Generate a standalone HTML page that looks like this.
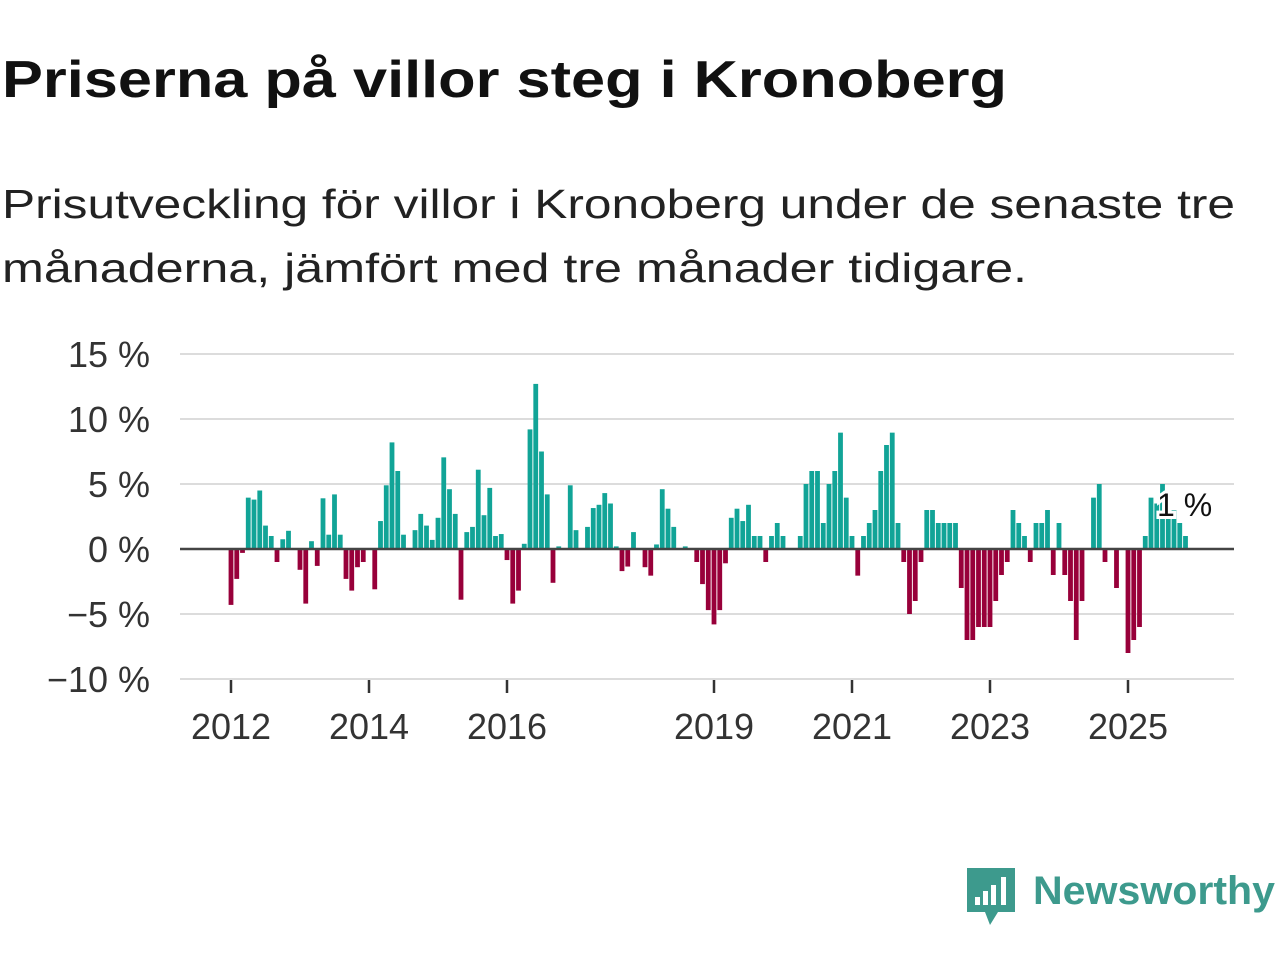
<!DOCTYPE html>
<html><head><meta charset="utf-8"><style>
body{margin:0;background:#fff;}
svg{display:block;font-family:"Liberation Sans","DejaVu Sans",sans-serif;}
</style></head><body>
<svg id="chart" width="1280" height="960" viewBox="0 0 1280 960">
<text x="2" y="97" font-size="52" font-weight="bold" fill="#111" textLength="1005" lengthAdjust="spacingAndGlyphs">Priserna på villor steg i Kronoberg</text>
<text x="2" y="218" font-size="41" fill="#222" textLength="1233" lengthAdjust="spacingAndGlyphs">Prisutveckling för villor i Kronoberg under de senaste tre</text>
<text x="2" y="282" font-size="41" fill="#222" textLength="1025" lengthAdjust="spacingAndGlyphs">månaderna, jämfört med tre månader tidigare.</text>
<g id="grid"></g>
<g id="bars"></g>
<g id="axes"></g>
<g>
<path d="M967 868 H1015 V912 H998 L990 925 L985 912 H967 Z" fill="#3d9a8d"/>
<rect x="975" y="897" width="5" height="8" fill="#fff"/><rect x="983" y="891" width="5" height="14" fill="#fff"/><rect x="991" y="885" width="5" height="20" fill="#fff"/><rect x="1001" y="877" width="5" height="28" fill="#fff"/>
<text x="1033" y="904" font-size="40" font-weight="bold" fill="#3d9a8d" textLength="242" lengthAdjust="spacingAndGlyphs">Newsworthy</text>
</g>
</svg>
<script>
const values = [-4.3,-2.3,-0.3,3.95,3.8,4.5,1.8,1.0,-1.0,0.75,1.4,0,
-1.6,-4.2,0.6,-1.3,3.9,1.1,4.2,1.1,-2.3,-3.2,-1.4,-1.0,
0,-3.1,2.15,4.9,8.2,6.0,1.1,0,1.45,2.7,1.8,0.7,
2.4,7.05,4.6,2.7,-3.9,1.3,1.7,6.1,2.6,4.7,1.0,1.15,
-0.85,-4.2,-3.2,0.4,9.2,12.7,7.5,4.2,-2.6,0.2,0,4.9,
1.45,0,1.7,3.15,3.4,4.3,3.5,0.2,-1.7,-1.35,1.3,0,
-1.4,-2.05,0.35,4.6,3.1,1.7,0,0.2,0,-1.0,-2.7,-4.7,
-5.8,-4.7,-1.1,2.4,3.1,2.15,3.4,1.0,1.0,-1.0,1.0,2.0,
1.0,0,0,1.0,5.0,6.0,6.0,2.0,5.0,6.0,8.95,3.95,
1.0,-2.05,1.0,2.0,3.0,6.0,8.0,8.95,2.0,-1.0,-5.0,-4.0,
-1.0,3.0,3.0,2.0,2.0,2.0,2.0,-3.0,-7.0,-7.0,-6.0,-6.0,
-6.0,-4.0,-2.0,-1.0,3.0,2.0,1.0,-1.0,2.0,2.0,3.0,-2.0,
2.0,-2.0,-4.0,-7.0,-4.0,0,3.95,5.0,-1.0,0,-3.0,0,
-8.0,-7.0,-6.0,1.0,3.95,3.5,5.0,3.0,3.0,2.0,1.0];
const yTicks = [15,10,5,0,-5,-10];
const xTickYears = [2012,2014,2016,2019,2021,2023,2025];
const startYear = 2012;
const lastLabel = "1 %";

const NS="http://www.w3.org/2000/svg";
const y = v => 549 - v*13;
const x = i => 231 + i*5.75;
function mk(tag, attrs, parent){const e=document.createElementNS(NS,tag);for(const k in attrs)e.setAttribute(k,attrs[k]);parent.appendChild(e);return e;}
const grid=document.getElementById('grid'), bars=document.getElementById('bars'), axes=document.getElementById('axes');
yTicks.forEach(t=>{
  if(t!==0){const l=mk('line',{x1:180,x2:1234,y1:y(t),y2:y(t),stroke:'#dcdcdc','stroke-width':2},grid);
  
  }
  const tx=mk('text',{x:150,y:y(t)+13,'font-size':36,fill:'#333','text-anchor':'end'},axes);
  tx.textContent=(t<0?'\u2212'+(-t):t)+' %';
  
  
});
values.forEach((v,i)=>{
  if(v===0)return;
  const r=mk('rect',{x:x(i)-2.4,width:4.8,y:Math.min(y(v),y(0)),height:Math.abs(y(v)-y(0)),fill:v>0?'#11a497':'#98003a'},bars);
  
  
});
const zl=mk('line',{x1:180,x2:1234,y1:549,y2:549,stroke:'#444','stroke-width':2.5},axes);


xTickYears.forEach(yr=>{
  const xi=x((yr-startYear)*12);
  const tk=mk('line',{x1:xi,x2:xi,y1:680,y2:693,stroke:'#333','stroke-width':2.5},axes);
  
  
  const t=mk('text',{x:xi,y:739,'font-size':36,fill:'#333','text-anchor':'middle'},axes);
  t.textContent=yr;
  
  
});
const lb=mk('text',{x:1157,y:516,'font-size':32,fill:'#111',stroke:'#fff','stroke-width':6,'paint-order':'stroke'},axes);
lb.textContent=lastLabel;


</script>
</body></html>
